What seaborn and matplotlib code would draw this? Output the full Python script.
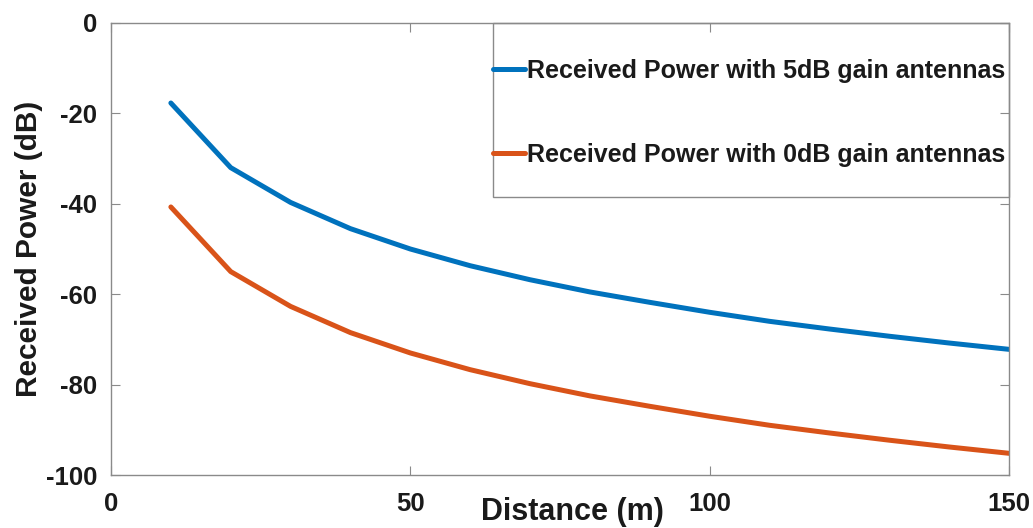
import numpy as np
import pandas as pd
import matplotlib
matplotlib.use("Agg")
import matplotlib.pyplot as plt
from matplotlib.patches import Rectangle
import seaborn as sns

# Distance samples (m) and received power for the two antenna setups (dB)
distance_m = [10, 20, 30, 40, 50, 60, 70, 80, 90, 100, 110, 120, 130, 140, 150]
power_5db = [-17.7, -32.0, -39.7, -45.5, -50.0, -53.7, -56.8, -59.5, -61.8,
             -64.0, -66.0, -67.7, -69.3, -70.8, -72.2]
power_0db = [-40.7, -55.0, -62.7, -68.5, -73.0, -76.7, -79.8, -82.5, -84.8,
             -87.0, -89.0, -90.7, -92.3, -93.8, -95.2]
series_labels = ["Received Power with 5dB gain antennas",
                 "Received Power with 0dB gain antennas"]
series_colors = ["#0072BD", "#D95319"]
x_ticks = [0, 50, 100, 150]
y_ticks = [0, -20, -40, -60, -80, -100]

df = pd.concat([
    pd.DataFrame({"Distance": distance_m, "Power": power_5db, "Series": series_labels[0]}),
    pd.DataFrame({"Distance": distance_m, "Power": power_0db, "Series": series_labels[1]}),
], ignore_index=True)

sns.set_style("ticks")
plt.rcParams["font.family"] = ["Liberation Sans", "DejaVu Sans"]
plt.rcParams["font.weight"] = "bold"
plt.rcParams["axes.unicode_minus"] = False
plt.rcParams["text.color"] = "#1a1a1a"
plt.rcParams["axes.labelcolor"] = "#1a1a1a"
plt.rcParams["xtick.labelcolor"] = "#1a1a1a"
plt.rcParams["ytick.labelcolor"] = "#1a1a1a"

fig = plt.figure(figsize=(10.33, 5.28), dpi=100)
# axes box: x 111..1009 px, y 23..475 px
ax = fig.add_axes([111 / 1033, 1 - 475 / 528, 898 / 1033, 452 / 528])

sns.lineplot(data=df, x="Distance", y="Power", hue="Series",
             hue_order=series_labels, palette=series_colors,
             linewidth=3.6, ax=ax, legend=True)

ax.set_xlim(0, 150)
ax.set_ylim(-100, 0)
ax.set_xticks(x_ticks)
ax.set_yticks(y_ticks)

spine_gray = "#8a8a8a"
for s in ax.spines.values():
    s.set_color(spine_gray)
    s.set_linewidth(1.0)
ax.tick_params(axis="both", which="both", direction="in", length=6.5,
               color=spine_gray, labelsize=18.5, top=True, right=True)
ax.tick_params(axis="x", pad=12)
ax.tick_params(axis="y", pad=10)
for lbl in ax.get_xticklabels() + ax.get_yticklabels():
    lbl.set_fontweight("bold")

ax.set_xlabel("Distance (m)", fontsize=22, fontweight="bold")
ax.xaxis.set_label_coords(0.514, -0.049)
ax.set_ylabel("Received Power (dB)", fontsize=21.5, fontweight="bold", labelpad=2)

# legend entries without their own frame; the box is drawn separately so the
# vertical padding can be wider than the horizontal one
leg = ax.legend(loc="center", bbox_to_anchor=(0.7105, 0.8005), frameon=False,
                borderaxespad=0.0, borderpad=0.0, handlelength=1.28,
                handletextpad=0.05, labelspacing=2.4,
                prop={"weight": "bold", "size": 18})
for h in leg.get_lines():
    h.set_linewidth(3.6)
ax.add_patch(Rectangle((0.4254, 0.615), 1.0 - 0.4254, 1.0 - 0.615,
                       transform=ax.transAxes, fill=False,
                       edgecolor=spine_gray, linewidth=1.0, zorder=5,
                       clip_on=False))

fig.savefig("out.png", dpi=100)
